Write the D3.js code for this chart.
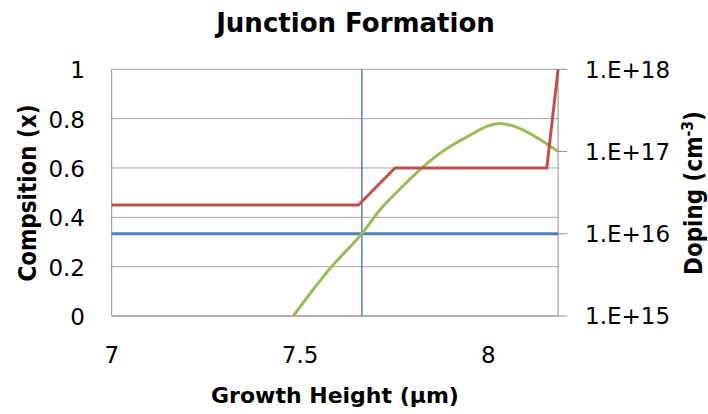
<!DOCTYPE html>
<html>
<head>
<meta charset="utf-8">
<script src="https://cdn.jsdelivr.net/npm/d3@7"></script>
<style>
  html, body { margin: 0; padding: 0; background: #fff; }
  svg { display: block; font-family: "DejaVu Sans", sans-serif; }
</style>
</head>
<body>
<svg id="chart" width="708" height="414"></svg>
<script>
// Growth height axis
const heightDomain = [7, 8.185];
const heightTicks = [7, 7.5, 8];

// Composition (left axis)
const compTicks = [0, 0.2, 0.4, 0.6, 0.8, 1];
const compHeight = [7, 7.655, 7.752, 8.155, 8.185];
const compValue  = [0.45, 0.45, 0.60, 0.60, 1.0];

// Doping profile (right axis, log scale)
const dopingTicks = [1e15, 1e16, 1e17, 1e18];
const dopHeight = [7.482, 7.535, 7.584, 7.624, 7.664, 7.712, 7.765, 7.818, 7.871, 7.942, 8.031, 8.084, 8.137, 8.185];
const dopValue  = [1.0e15, 2.1e15, 4.0e15, 6.3e15, 1.0e16, 1.95e16, 3.5e16, 6.0e16, 9.5e16, 1.5e17, 2.2e17, 1.9e17, 1.4e17, 1.0e17];

// Junction markers
const junctionHeight = [7.664];
const refDoping = [1e16];

const svg = d3.select("#chart");
const m = { left: 111.7, top: 69.3, bottom: 316 };
const pxPerUnit = 376.7;

const x = d3.scaleLinear().domain(heightDomain)
  .range([m.left, m.left + (heightDomain[1] - heightDomain[0]) * pxPerUnit]);
const yL = d3.scaleLinear().domain([0, 1]).range([m.bottom, m.top]);
const yR = d3.scaleLog().domain([1e15, 1e18]).range([m.bottom, m.top]);

const gridColor = "#a6a6a6";
const axisColor = "#8c8c8c";
const xMin = x(heightDomain[0]), xMax = x(heightDomain[1]);

// Horizontal gridlines
svg.append("g").selectAll("line").data(compTicks).join("line")
  .attr("x1", xMin).attr("x2", xMax)
  .attr("y1", d => yL(d)).attr("y2", d => yL(d))
  .attr("stroke", gridColor).attr("stroke-width", 1);

// Axis lines
const axes = svg.append("g").attr("stroke", axisColor).attr("stroke-width", 1);
axes.append("line").attr("x1", xMin).attr("x2", xMin).attr("y1", yL(0)).attr("y2", yL(1));
axes.append("line").attr("x1", xMax).attr("x2", xMax).attr("y1", yL(0)).attr("y2", yL(1));
axes.append("line").attr("x1", xMin).attr("x2", xMax).attr("y1", yL(0)).attr("y2", yL(0));
// Right axis tick marks
axes.selectAll("line.rt").data(dopingTicks).join("line").attr("class", "rt")
  .attr("x1", xMax).attr("x2", xMax + 9)
  .attr("y1", d => yR(d)).attr("y2", d => yR(d));

// Tick labels
const tickFont = 23;
svg.append("g").selectAll("text").data(compTicks).join("text")
  .attr("x", 85).attr("y", d => yL(d) + 9)
  .attr("text-anchor", "end").attr("font-size", tickFont).attr("fill", "#000")
  .text(d => d3.format("")(d));

svg.append("g").selectAll("text").data(dopingTicks).join("text")
  .attr("x", 585).attr("y", d => yR(d) + 8.4)
  .attr("text-anchor", "start").attr("font-size", tickFont).attr("fill", "#000")
  .text(d => "1.E+" + Math.round(Math.log10(d)));

svg.append("g").selectAll("text").data(heightTicks).join("text")
  .attr("x", d => x(d)).attr("y", 363)
  .attr("text-anchor", "middle").attr("font-size", tickFont).attr("fill", "#000")
  .text(d => d3.format("")(d));

// Series lines
const compLine = d3.line().x(d => x(d[0])).y(d => yL(d[1]));
const dopLine = d3.line().x(d => x(d[0])).y(d => yR(d[1])).curve(d3.curveMonotoneX);

svg.append("line")
  .attr("x1", xMin).attr("x2", xMax)
  .attr("y1", yR(refDoping[0])).attr("y2", yR(refDoping[0]))
  .attr("stroke", "#4f81bd").attr("stroke-width", 3);

svg.append("line")
  .attr("x1", x(junctionHeight[0])).attr("x2", x(junctionHeight[0]))
  .attr("y1", yL(0)).attr("y2", yL(1))
  .attr("stroke", "#4f81bd").attr("stroke-width", 1.5);

svg.append("path")
  .datum(dopHeight.map((h, i) => [h, dopValue[i]]))
  .attr("d", dopLine).attr("fill", "none")
  .attr("stroke", "#9bbb59").attr("stroke-width", 3).attr("stroke-linejoin", "round");

svg.append("path")
  .datum(compHeight.map((h, i) => [h, compValue[i]]))
  .attr("d", compLine).attr("fill", "none")
  .attr("stroke", "#c0504d").attr("stroke-width", 3).attr("stroke-linejoin", "round");

// Titles
svg.append("text").attr("x", 355.5).attr("y", 31.5).attr("text-anchor", "middle")
  .attr("font-size", 26).attr("font-weight", "bold").text("Junction Formation");

svg.append("text").attr("x", 335).attr("y", 402.5).attr("text-anchor", "middle")
  .attr("font-size", 22).attr("font-weight", "bold").text("Growth Height (\u00b5m)");

svg.append("text").attr("transform", "translate(35.5,193) scale(1.15,1) rotate(-90)")
  .attr("text-anchor", "middle")
  .attr("font-size", 21.5).attr("font-weight", "bold").text("Compsition (x)");

const dop = svg.append("text").attr("transform", "translate(702,193) scale(1.15,1) rotate(-90)")
  .attr("text-anchor", "middle")
  .attr("font-size", 21.5).attr("font-weight", "bold");
dop.append("tspan").text("Doping (cm");
dop.append("tspan").attr("dy", -8).attr("font-size", 14).text("-3");
dop.append("tspan").attr("dy", 8).text(")");
</script>
</body>
</html>
